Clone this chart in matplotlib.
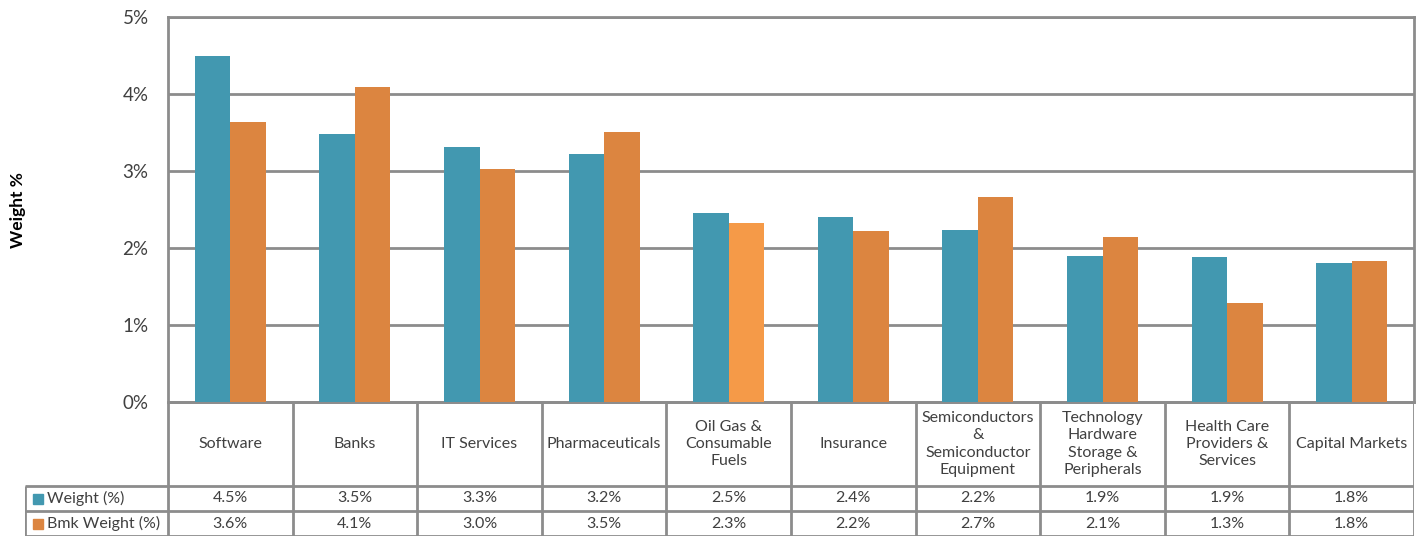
import numpy as np
import matplotlib.pyplot as plt
from matplotlib.patches import Rectangle

# data
categories = ['Software', 'Banks', 'IT Services', 'Pharmaceuticals',
              'Oil Gas &\nConsumable\nFuels', 'Insurance',
              'Semiconductors\n&\nSemiconductor\nEquipment',
              'Technology\nHardware\nStorage &\nPeripherals',
              'Health Care\nProviders &\nServices', 'Capital Markets']
weight = [4.49, 3.48, 3.31, 3.22, 2.46, 2.40, 2.23, 1.89, 1.88, 1.80]
bmk_weight = [3.64, 4.09, 3.03, 3.51, 2.33, 2.22, 2.66, 2.14, 1.29, 1.83]
weight_labels = ['4.5%', '3.5%', '3.3%', '3.2%', '2.5%', '2.4%', '2.2%', '1.9%', '1.9%', '1.8%']
bmk_labels = ['3.6%', '4.1%', '3.0%', '3.5%', '2.3%', '2.2%', '2.7%', '2.1%', '1.3%', '1.8%']
series_names = ['Weight (%)', 'Bmk Weight (%)']

teal = '#4298b0'
orange = '#dc8540'
orange_light = '#f59a48'
grid_col = '#8c8c8c'
text_col = '#404040'

plt.rcParams['font.family'] = ['Lato', 'DejaVu Sans']

W, H = 1421, 550
fig = plt.figure(figsize=(W / 100, H / 100), dpi=100)

# pixel layout
ax_l, ax_r, ax_t, ax_b = 168, 1414, 17, 402
tab_l, tab_b = 25, 536
row_y = [402, 486, 511, 536]

ax = fig.add_axes([ax_l / W, 1 - ax_b / H, (ax_r - ax_l) / W, (ax_b - ax_t) / H])
n = len(categories)
x = np.arange(n)
bw = 0.285
bar_cols = [orange] * n
bar_cols[4] = orange_light
ax.bar(x - bw / 2, weight, bw, color=teal, zorder=3)
ax.bar(x + bw / 2, bmk_weight, bw, color=bar_cols, zorder=3)
ax.set_xlim(-0.5, n - 0.5)
ax.set_ylim(0, 5)
ax.set_yticks(range(6))
ax.set_yticklabels([f'{i}%' for i in range(6)], fontsize=13.5, color=text_col)
ax.set_xticks([])
ax.tick_params(axis='y', length=0, pad=14)
ax.grid(axis='y', color=grid_col, lw=2, zorder=0)
for s in ax.spines.values():
    s.set_color(grid_col)
    s.set_linewidth(2)
fig.text(18 / W, 1 - 210 / H, 'Weight %', rotation=90, ha='center', va='center',
         fontsize=12.5, fontweight='bold', color='black')

# data table below the axes, drawn in pixel coordinates
tax = fig.add_axes([tab_l / W, 1 - tab_b / H, (ax_r - tab_l) / W, (tab_b - row_y[0]) / H])
tax.set_xlim(tab_l, ax_r)
tax.set_ylim(tab_b, row_y[0])
tax.axis('off')
colw = (ax_r - ax_l) / n
lc = dict(color=grid_col, lw=2, solid_capstyle='butt')
for i in range(n + 1):
    xx = ax_l + i * colw
    tax.plot([xx, xx], [row_y[0], row_y[3]], **lc)
tax.plot([tab_l, tab_l], [row_y[1], row_y[3]], **lc)
tax.plot([ax_l, ax_r], [row_y[0], row_y[0]], **lc)
for yy in row_y[1:]:
    tax.plot([tab_l, ax_r], [yy, yy], **lc)

fs = 11.5
for i, cat in enumerate(categories):
    cx = ax_l + (i + 0.5) * colw
    tax.text(cx, (row_y[0] + row_y[1]) / 2, cat, ha='center', va='center',
             fontsize=fs, color=text_col, linespacing=1.3)
    tax.text(cx, (row_y[1] + row_y[2]) / 2, weight_labels[i], ha='center', va='center',
             fontsize=fs, color=text_col)
    tax.text(cx, (row_y[2] + row_y[3]) / 2, bmk_labels[i], ha='center', va='center',
             fontsize=fs, color=text_col)

for j, (name, col) in enumerate(zip(series_names, [teal, orange])):
    yc = (row_y[1 + j] + row_y[2 + j]) / 2
    tax.add_patch(Rectangle((33, yc - 5), 10, 10, color=col))
    tax.text(47, yc, name, ha='left', va='center', fontsize=fs, color=text_col)

fig.savefig('out.png', dpi=100, facecolor='white')
